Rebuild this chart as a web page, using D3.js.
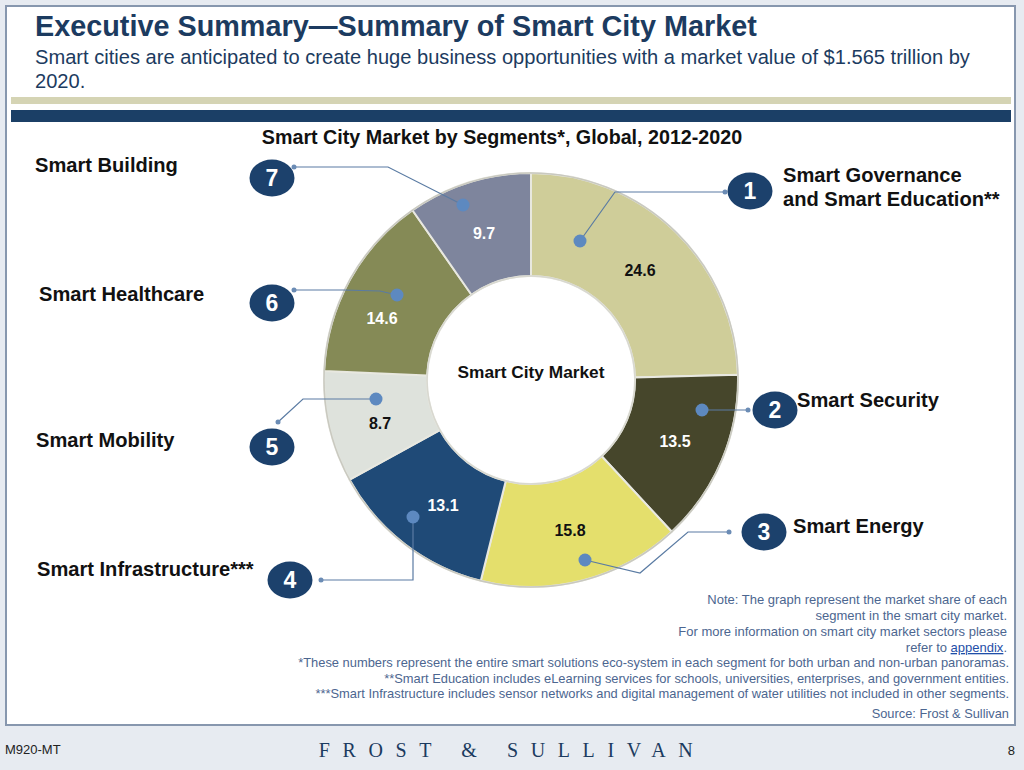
<!DOCTYPE html>
<html><head><meta charset="utf-8">
<script src="https://cdn.jsdelivr.net/npm/d3@7"></script>
<style>html,body{margin:0;padding:0;background:#e7ebf1;}svg{display:block;}</style>
</head><body>
<svg id="c" width="1024" height="770"></svg>
<script>
// Data
const segments = ["Smart Governance and Smart Education**","Smart Security","Smart Energy","Smart Infrastructure***","Smart Mobility","Smart Healthcare","Smart Building"];
const numbers = [1,2,3,4,5,6,7];
const values = [24.6,13.5,15.8,13.1,8.7,14.6,9.7];
const colors = ["#cfcd99","#46462b","#e4df6c","#1f4a77","#dee2dc","#858a56","#7e859d"];
const valueTextColors = ["#111","#fff","#111","#fff","#111","#fff","#fff"];
const title = "Executive Summary\u2014Summary of Smart City Market";
const subtitle = ["Smart cities are anticipated to create huge business opportunities with a market value of $1.565 trillion by","2020."];
const chartTitle = "Smart City Market by Segments*, Global, 2012-2020";
const centerLabel = "Smart City Market";
const notes = ["Note: The graph represent the market share of each","segment in the smart city market.","For more information on smart city market sectors please"];
const footnotes = ["*These numbers represent the entire smart solutions eco-system in each segment for both urban and non-urban panoramas.","**Smart Education includes eLearning services for schools, universities, enterprises, and government entities.","***Smart Infrastructure includes sensor networks and digital management of water utilities not included in other segments."];
const source = "Source: Frost & Sullivan";

const svg = d3.select("#c");
const navy = "#1c3b60";
const font = "'Liberation Sans', Arial, sans-serif";

// panel
svg.append("rect").attr("x",6).attr("y",6).attr("width",1009).attr("height",719)
  .attr("fill","#fff").attr("stroke","#8797ae").attr("stroke-width",2);
svg.append("text").attr("x",35).attr("y",36).attr("font-family",font).attr("font-weight","bold")
  .attr("font-size",28.8).attr("fill",navy).text(title);
subtitle.forEach((s,i)=>svg.append("text").attr("x",35).attr("y",64+i*24).attr("font-family",font)
  .attr("font-size",20.1).attr("fill",navy).text(s));
svg.append("rect").attr("x",11).attr("y",97).attr("width",1000).attr("height",7).attr("fill","#d5d4b4");
svg.append("rect").attr("x",11).attr("y",110).attr("width",1000).attr("height",12).attr("fill","#1b3f66");

svg.append("text").attr("x",502).attr("y",144).attr("text-anchor","middle").attr("font-family",font)
  .attr("font-weight","bold").attr("font-size",19.7).attr("fill","#111").text(chartTitle);

// donut
const cx=531, cy=380, R=207, r=104;
const pie = d3.pie().sort(null).value(d=>d);
const arcs = pie(values);
const arc = d3.arc().innerRadius(r).outerRadius(R);
const g = svg.append("g").attr("transform",`translate(${cx},${cy})`);
g.selectAll("path.s").data(arcs).join("path").attr("class","s").attr("d",arc)
  .attr("fill",(d,i)=>colors[i]).attr("stroke","#e8e8e0").attr("stroke-width",2);
g.append("circle").attr("r",R).attr("fill","none").attr("stroke","#c9c9c0").attr("stroke-width",1.5);
g.append("circle").attr("r",r).attr("fill","none").attr("stroke","#d8d8d0").attr("stroke-width",1.5);

// value labels
const labelPos = [[109,-110],[144,61],[39,150],[-88,125],[-151,43],[-149,-62],[-47,-147]];
g.selectAll("text.v").data(arcs).join("text").attr("class","v")
  .attr("x",(d,i)=>labelPos[i][0]).attr("y",(d,i)=>labelPos[i][1]).attr("dy","0.35em")
  .attr("text-anchor","middle").attr("font-family",font).attr("font-weight","bold").attr("font-size",16)
  .attr("fill",(d,i)=>valueTextColors[i]).text(d=>d.value.toFixed(1));

g.append("text").attr("y",0).attr("dy","-0.1em").attr("text-anchor","middle").attr("font-family",font)
  .attr("font-weight","bold").attr("font-size",17.3).attr("fill","#111").text(centerLabel);

// leaders
const leaders = [
  [[580,241],[615,192],[725,192]],
  [[702,410],[748,410]],
  [[585,560],[640,573],[688,532],[729,532]],
  [[413,517],[413,580],[321,580]],
  [[376,399],[303,399],[278,422]],
  [[397,295],[380,291],[343,290],[294,290]],
  [[463,205],[388,167],[294,167]]
];
const lineCol = "#5a7ba3";
leaders.forEach(pts=>{
  svg.append("path").attr("d",d3.line()(pts)).attr("fill","none").attr("stroke",lineCol).attr("stroke-width",1.2);
  svg.append("circle").attr("cx",pts[0][0]).attr("cy",pts[0][1]).attr("r",6.5).attr("fill","#5d89c0");
  const e = pts[pts.length-1];
  svg.append("circle").attr("cx",e[0]).attr("cy",e[1]).attr("r",2.5).attr("fill","#6b8cb5");
});

// badges
const badges = [[750,191],[775,410],[764,532],[290,580],[272,447],[272,303],[272,178]];
badges.forEach((b,i)=>{
  svg.append("ellipse").attr("cx",b[0]).attr("cy",b[1]).attr("rx",22.5).attr("ry",18.5).attr("fill","#1c416c");
  svg.append("text").attr("x",b[0]).attr("y",b[1]).attr("dy","0.36em").attr("text-anchor","middle")
    .attr("font-family",font).attr("font-weight","bold").attr("font-size",23).attr("fill","#fff").text(numbers[i]);
});

// segment labels
const segLabels = [
  {x:783,y:182,lines:["Smart Governance","and Smart Education**"]},
  {x:797,y:407,lines:["Smart Security"]},
  {x:793,y:533,lines:["Smart Energy"]},
  {x:37,y:576,lines:["Smart Infrastructure***"]},
  {x:36,y:447,lines:["Smart Mobility"]},
  {x:39,y:301,lines:["Smart Healthcare"]},
  {x:35,y:172,lines:["Smart Building"]}
];
segLabels.forEach(s=>{
  s.lines.forEach((l,j)=>svg.append("text").attr("x",s.x).attr("y",s.y+j*24).attr("font-family",font)
    .attr("font-weight","bold").attr("font-size",20.1).attr("fill","#111").text(l));
});

// notes
const noteCol = "#4c6690";
notes.forEach((n,i)=>svg.append("text").attr("x",1007).attr("y",604+i*16).attr("text-anchor","end")
  .attr("font-family",font).attr("font-size",13).attr("fill",noteCol).text(n));
const rt = svg.append("text").attr("x",1007).attr("y",652).attr("text-anchor","end")
  .attr("font-family",font).attr("font-size",13).attr("fill",noteCol);
rt.append("tspan").text("refer to ");
rt.append("tspan").attr("fill","#1f4fa8").attr("text-decoration","underline").text("appendix");
rt.append("tspan").text(".");
footnotes.forEach((n,i)=>svg.append("text").attr("x",1009).attr("y",667+i*15.5).attr("text-anchor","end")
  .attr("font-family",font).attr("font-size",12.9).attr("fill",noteCol).text(n));
svg.append("text").attr("x",1009).attr("y",718).attr("text-anchor","end")
  .attr("font-family",font).attr("font-size",12.8).attr("fill",noteCol).text(source);

// footer
svg.append("text").attr("x",5).attr("y",754).attr("font-family",font).attr("font-size",13).attr("fill","#222").text("M920-MT");
svg.append("text").attr("x",1015).attr("y",755).attr("text-anchor","end").attr("font-family",font).attr("font-size",13).attr("fill","#222").text("8");
svg.append("text").attr("x",512).attr("y",757).attr("text-anchor","middle").attr("font-family","'Liberation Serif', 'DejaVu Serif', serif")
  .attr("font-size",20).attr("letter-spacing",12.6).attr("fill","#1c3b60").text("FROST & SULLIVAN");
</script>
</body></html>
